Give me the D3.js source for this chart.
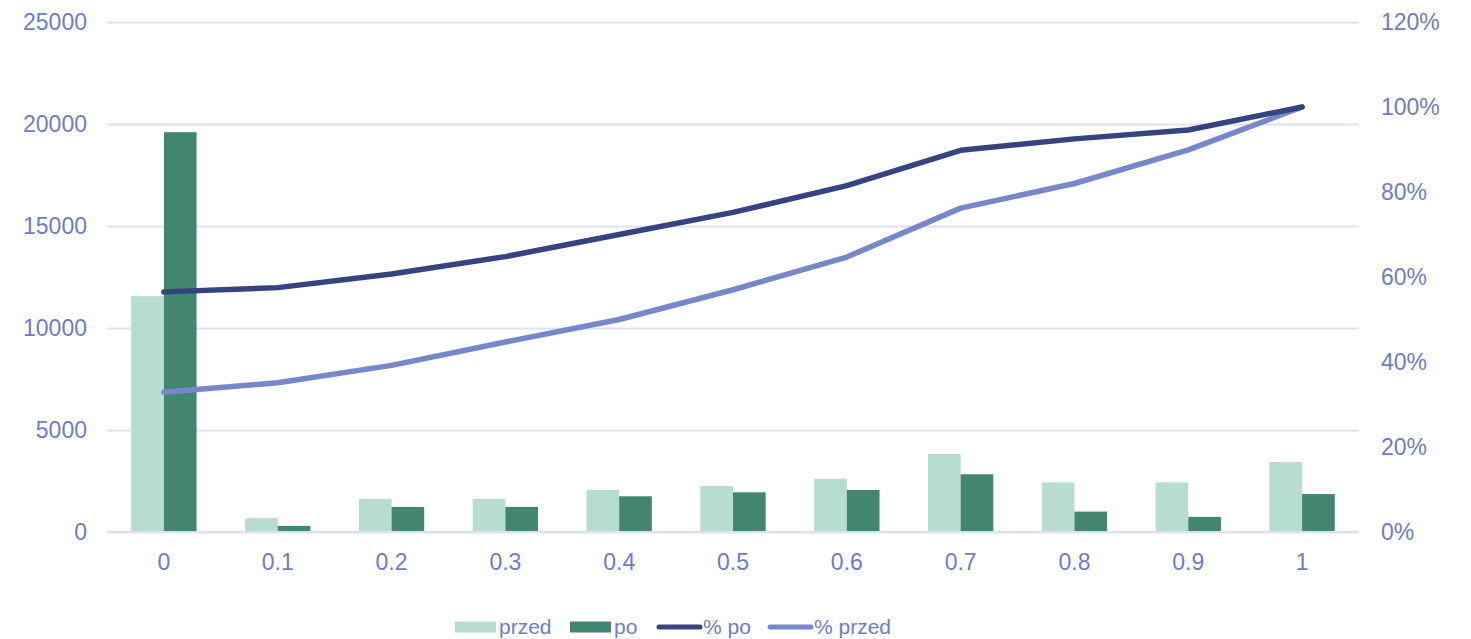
<!DOCTYPE html>
<html>
<head>
<meta charset="utf-8">
<script src="https://cdn.jsdelivr.net/npm/d3@7"></script>
<style>
  body { margin: 0; background: #fff; }
  text { font-family: "Liberation Sans", Arial, sans-serif; }
</style>
</head>
<body>
<script>
// data
var categories = ["0", "0.1", "0.2", "0.3", "0.4", "0.5", "0.6", "0.7", "0.8", "0.9", "1"];
var przed = [11560, 680, 1620, 1620, 2060, 2250, 2610, 3820, 2430, 2430, 3430];
var po = [19600, 300, 1230, 1230, 1750, 1945, 2060, 2830, 1000, 740, 1860];
var pctPo = [0.565, 0.575, 0.607, 0.648, 0.700, 0.752, 0.815, 0.898, 0.925, 0.946, 1.0];
var pctPrzed = [0.329, 0.351, 0.392, 0.447, 0.500, 0.570, 0.647, 0.762, 0.820, 0.899, 1.0];
var leftTicks = [0, 5000, 10000, 15000, 20000, 25000];
var rightTicks = [0, 0.2, 0.4, 0.6, 0.8, 1.0, 1.2];

var width = 1471, height = 639;
var textColor = "#6f7cc4";
var gridColor = "#dfe1f2";

var svg = d3.select("body").append("svg")
  .attr("width", width)
  .attr("height", height);

var plotLeft = 107, plotRight = 1359, plotTop = 22, plotBottom = 532;

var x = d3.scaleBand().domain(categories).range([plotLeft, plotRight])
  .paddingInner(0.426).paddingOuter(0.213);
var xSub = d3.scaleBand().domain(["przed", "po"]).range([0, x.bandwidth()]);
var y = d3.scaleLinear().domain([0, 25000]).range([plotBottom, plotTop]);
var y2 = d3.scaleLinear().domain([0, 1.2]).range([plotBottom, plotTop]);

// gridlines + left axis
var gy = svg.append("g").attr("transform", "translate(" + plotLeft + ",0)")
  .call(d3.axisLeft(y).tickValues(leftTicks).tickSize(-(plotRight - plotLeft)).tickPadding(20).tickFormat(d3.format("d")));
gy.select(".domain").remove();
gy.selectAll("line").attr("stroke", gridColor).attr("stroke-width", 2);
gy.selectAll("text").attr("fill", textColor).attr("font-size", 23);

// right axis
var gy2 = svg.append("g").attr("transform", "translate(" + plotRight + ",0)")
  .call(d3.axisRight(y2).tickValues(rightTicks).tickSize(0).tickPadding(22).tickFormat(d3.format(".0%")));
gy2.select(".domain").remove();
gy2.selectAll("text").attr("fill", textColor).attr("font-size", 23);

// x axis labels
var gx = svg.append("g").attr("transform", "translate(0," + plotBottom + ")")
  .call(d3.axisBottom(x).tickSize(0).tickPadding(22));
gx.select(".domain").remove();
gx.selectAll("text").attr("fill", textColor).attr("font-size", 23);

// bars
var groups = svg.append("g").selectAll("g").data(categories).enter().append("g")
  .attr("transform", function (d) { return "translate(" + x(d) + ",0)"; });

groups.append("rect")
  .attr("x", xSub("przed"))
  .attr("y", function (d, i) { return y(przed[i]); })
  .attr("width", xSub.bandwidth())
  .attr("height", function (d, i) { return plotBottom - y(przed[i]); })
  .attr("fill", "#b7dcd0");

groups.append("rect")
  .attr("x", xSub("po"))
  .attr("y", function (d, i) { return y(po[i]); })
  .attr("width", xSub.bandwidth())
  .attr("height", function (d, i) { return plotBottom - y(po[i]); })
  .attr("fill", "#428571");

// baseline over bars
svg.append("line")
  .attr("x1", plotLeft).attr("x2", plotRight)
  .attr("y1", y(0)).attr("y2", y(0))
  .attr("stroke", gridColor).attr("stroke-width", 2);

// lines
var line = d3.line()
  .x(function (d, i) { return x(categories[i]) + x.bandwidth() / 2; })
  .y(function (d) { return y2(d); });

svg.append("path").datum(pctPrzed)
  .attr("d", line)
  .attr("fill", "none")
  .attr("stroke", "#7787c9")
  .attr("stroke-width", 5.5)
  .attr("stroke-linecap", "round")
  .attr("stroke-linejoin", "round");

svg.append("path").datum(pctPo)
  .attr("d", line)
  .attr("fill", "none")
  .attr("stroke", "#35437f")
  .attr("stroke-width", 5.5)
  .attr("stroke-linecap", "round")
  .attr("stroke-linejoin", "round");

// legend
var legend = svg.append("g");
var legY = 627;
var items = [
  {name: "przed", type: "rect", color: "#b7dcd0", x: 455},
  {name: "po", type: "rect", color: "#428571", x: 570},
  {name: "% po", type: "line", color: "#35437f", x: 659},
  {name: "% przed", type: "line", color: "#7787c9", x: 770}
];
items.forEach(function (it) {
  if (it.type == "rect") {
    legend.append("rect").attr("x", it.x).attr("y", legY - 5.5)
      .attr("width", 41).attr("height", 11).attr("fill", it.color);
  } else {
    legend.append("line").attr("x1", it.x).attr("x2", it.x + 41)
      .attr("y1", legY).attr("y2", legY)
      .attr("stroke", it.color).attr("stroke-width", 5).attr("stroke-linecap", "round");
  }
  legend.append("text").attr("x", it.x + 44).attr("y", legY)
    .attr("dy", "0.35em")
    .attr("fill", textColor).attr("font-size", 21)
    .text(it.name);
});
</script>
</body>
</html>
